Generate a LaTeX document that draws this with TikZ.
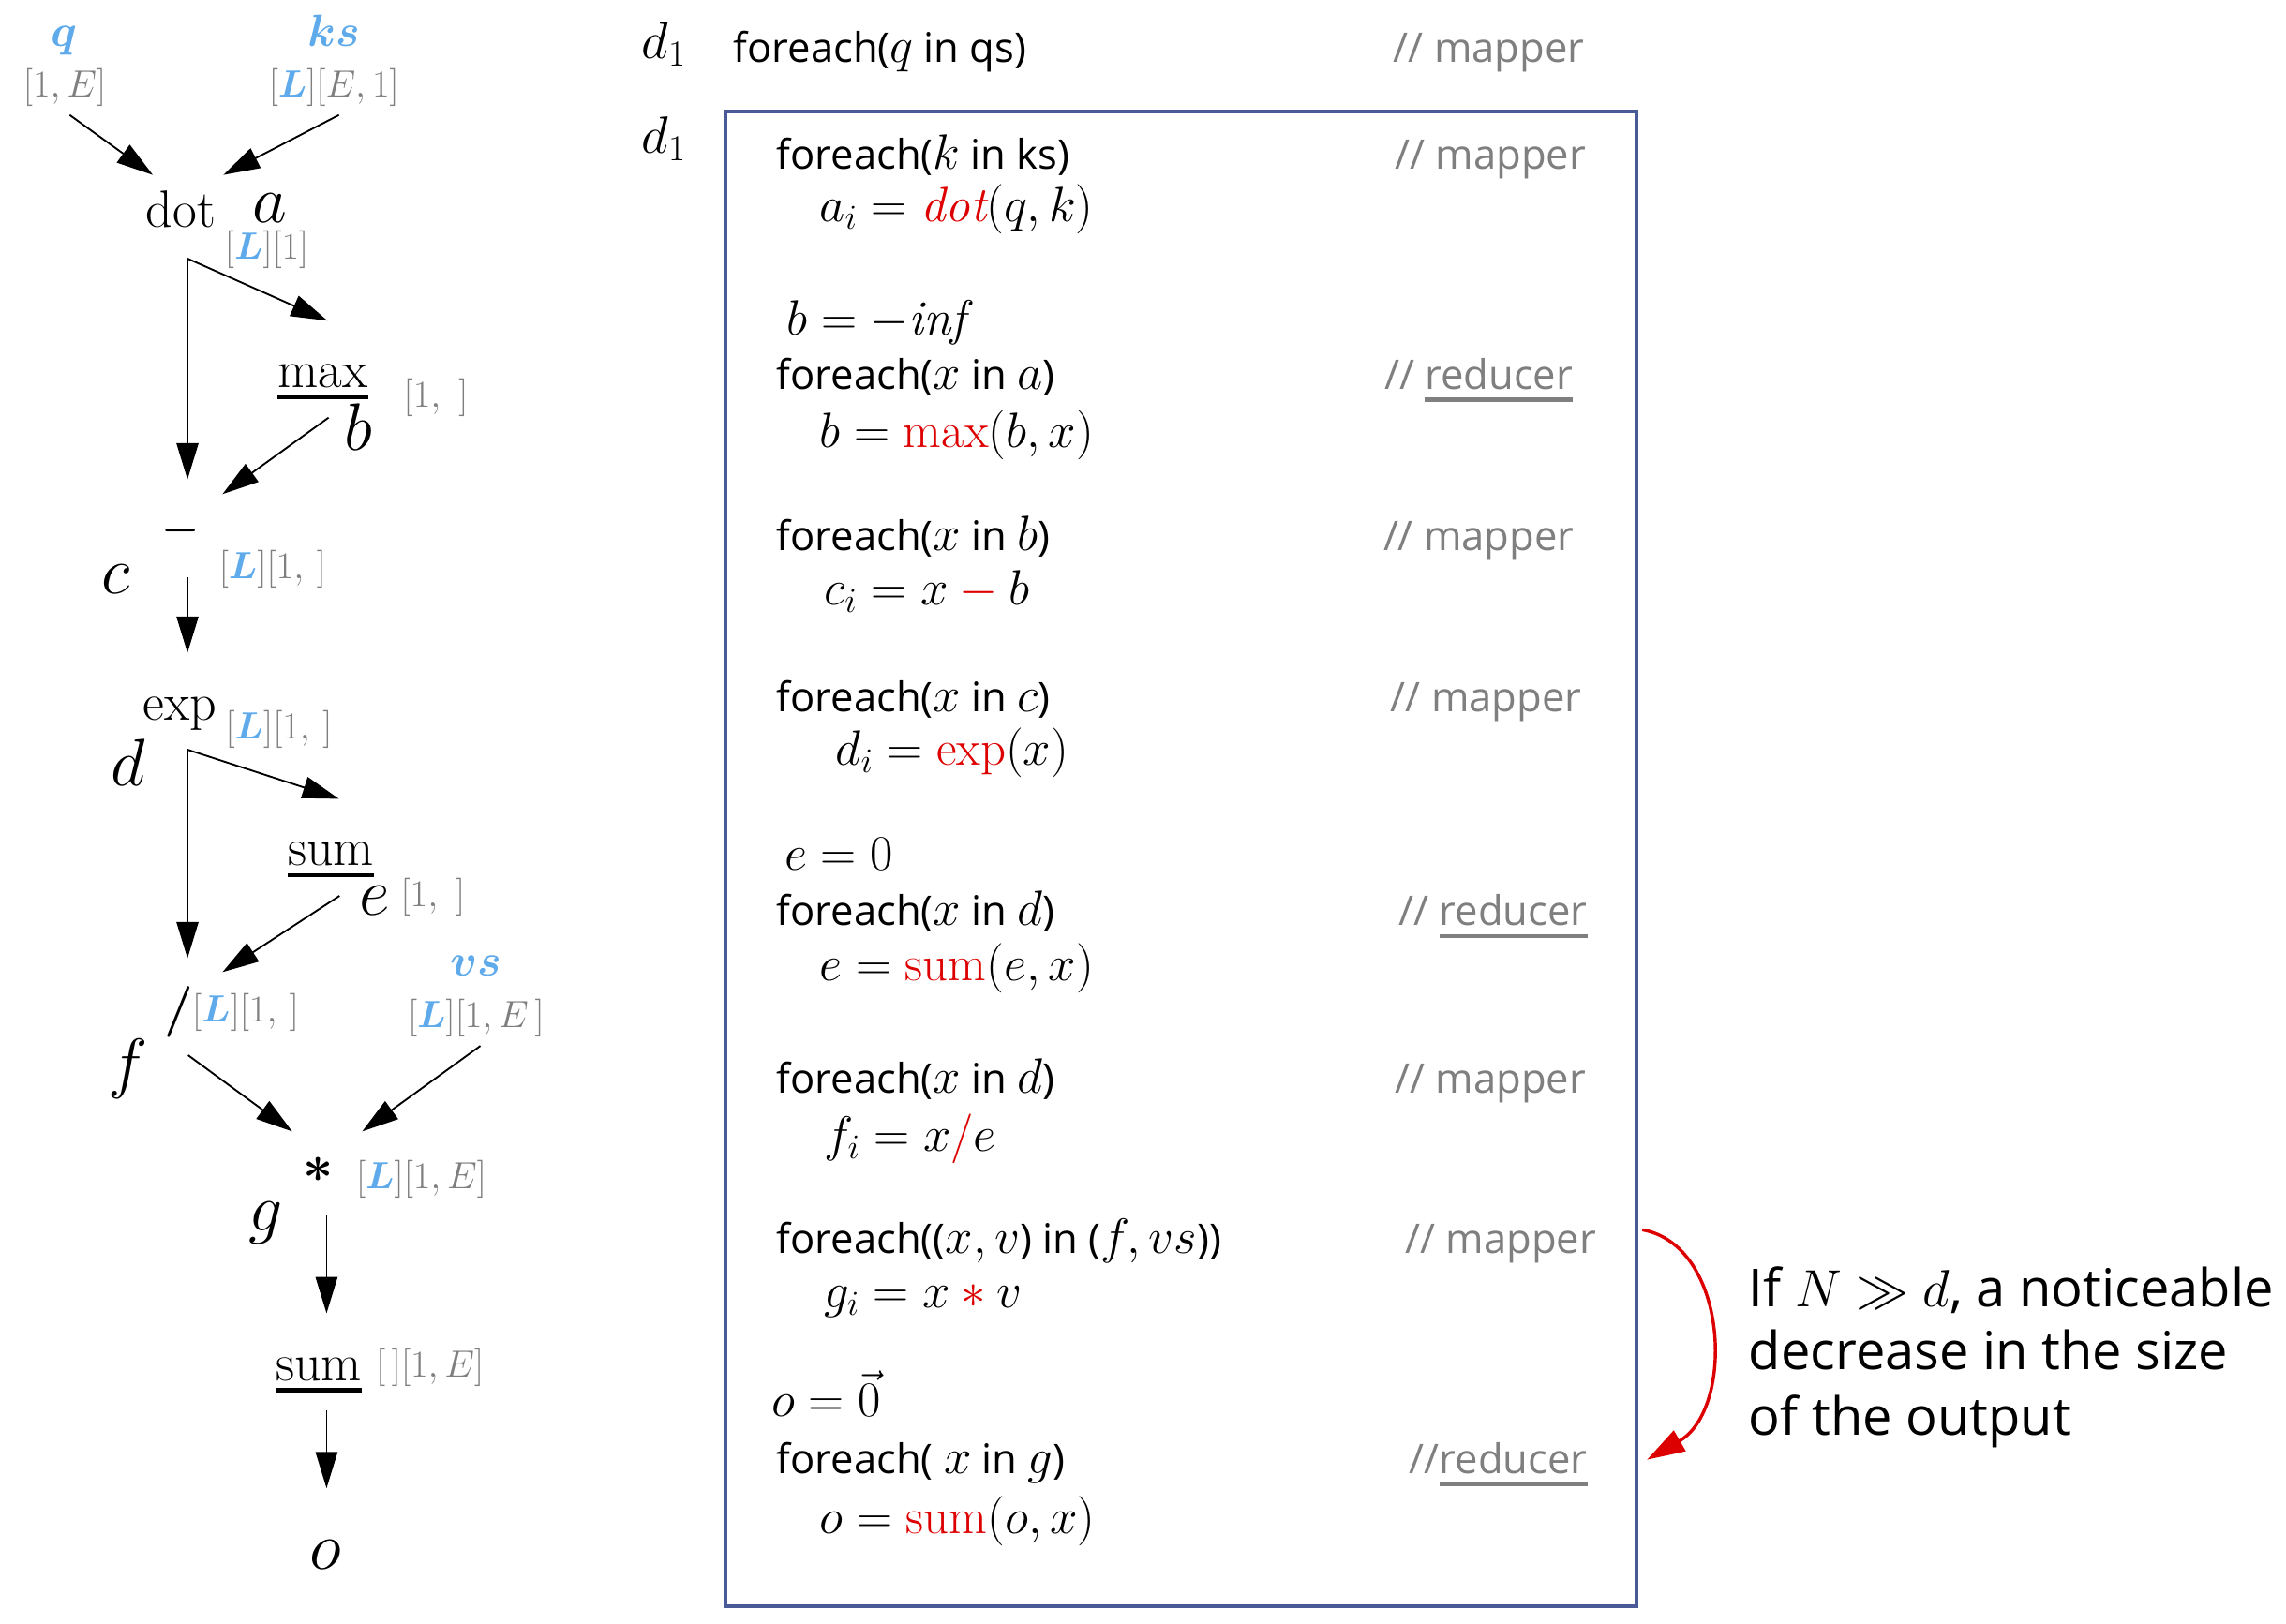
\RequirePackage{fix-cm}
\documentclass[tikz,border=0pt]{standalone}
\usepackage{amsmath}
\usepackage{bm}
\usepackage{fontspec}
\usetikzlibrary{arrows.meta}
\newfontfamily\codesans{Open Sans}
\definecolor{cblue}{HTML}{5EAAEB}
\definecolor{cgray}{HTML}{7F7F7F}
\definecolor{cred}{HTML}{DD0000}
\definecolor{cbox}{HTML}{4A5A96}
\newcommand\codefont{\codesans\fontsize{28}{34}\selectfont}
\newcommand\notefont{\codesans\fontsize{36}{44}\selectfont}
\newcommand\opfont{\fontsize{36}{40}\selectfont}
\newcommand\varfont{\fontsize{46}{50}\selectfont}
\newcommand\dimfont{\fontsize{26}{30}\selectfont}
\newcommand\inpfont{\fontsize{31}{35}\selectfont}
\newcommand\M[1]{{\fontsize{34}{34}\selectfont$#1$}}
\newsavebox\ulbox
\newcommand\myul[3]{\leavevmode\sbox\ulbox{#1}\rlap{\rule[-#3]{\wd\ulbox}{#2}}\usebox\ulbox}
\newcommand\BL{{\color{cblue}\bm{L}}}
\begin{document}
\begin{tikzpicture}[x=1pt,y=-1pt,
  op/.style={inner sep=0,anchor=base,font=\opfont},
  var/.style={inner sep=0,anchor=base,font=\varfont},
  dimlab/.style={inner sep=0,anchor=base,font=\dimfont,text=cgray},
  inp/.style={inner sep=0,anchor=base,font=\inpfont,text=cblue},
  flow/.style={-{Triangle[length=25pt,width=15pt]},line width=1.2pt},
  codeline/.style={inner sep=0,anchor=base west,font=\codefont},
  cmt/.style={inner sep=0,anchor=base east,font=\codefont,text=cgray},
  note/.style={inner sep=0,anchor=base west,font=\notefont},
  redarrow/.style={-{Triangle[length=26pt,width=16pt]},line width=2.2pt,draw=cred}]
\useasboundingbox (0,0) rectangle (1568,1114);

% ---------------- left graph ----------------
\node[inp] (q) at (44,32) {$\bm{q}$};
\node[dimlab] (qdim) at (44.4,66.7) {$[1,E]$};
\node[inp] (ks) at (229,32) {$\bm{ks}$};
\node[dimlab] (ksdim) at (229,66.7) {$[\BL][E,1]$};

\node[op] (dot) at (124,156) {dot};
\node[var] (a) at (185,152.6) {$a$};
\node[dimlab] (adim) at (183,178) {$[\BL][1]$};

\node[op] (max) at (221.5,265.6) {\myul{max}{2.8pt}{8.3pt}};
\node[var] (b) at (246,308.6) {$b$};
\node[dimlab] (bdim) at (299,279.5) {$[1,\ ]$};

\node[inner sep=0,font=\fontsize{29}{32}\selectfont] (minus) at (124,364.3) {$\bm{-}$};
\node[var] (c) at (79.6,407) {$c$};
\node[dimlab] (cdim) at (187,397) {$[\BL][1,\,]$};

\node[op] (exp) at (123.2,494) {exp};
\node[dimlab] (ddim) at (191.3,507) {$[\BL][1,\,]$};
\node[var] (d) at (87.9,539) {$d$};

\node[op] (sum) at (227.1,594) {\myul{sum}{2.8pt}{8pt}};
\node[var] (e) at (257.2,627.5) {$e$};
\node[dimlab] (edim) at (297,622) {$[1,\ ]$};

\node[inp] (vs) at (326.5,669.7) {$\bm{vs}$};
\node[dimlab] (vsdim) at (326.5,704.6) {$[\BL][1,E\,]$};

\node[inner sep=0,anchor=base,font=\fontsize{35}{38}\selectfont] (div) at (122.9,703) {$\bm{/}$};
\node[dimlab] (fdim) at (168.5,701) {$[\BL][1,\,]$};
\node[var] (f) at (87.8,745) {$f$};

\node[inner sep=0,font=\fontsize{36}{38}\selectfont] (mul) at (218.6,802.5) {$\bm{\ast}$};
\node[dimlab] (gdim) at (289,815.3) {$[\BL][1,E]$};
\node[var] (g) at (182.6,844.5) {$g$};

\node[op] (sumo) at (218.6,947.2) {\myul{sum}{2.8pt}{8pt}};
\node[dimlab] (sumodim) at (294.9,944.5) {$[\,][1,E]$};

\node[var] (o) at (223.3,1076.8) {$o$};

% ports
\coordinate (q-out) at (47.8,78.9);
\coordinate (ks-out) at (232.5,78.9);
\coordinate (dot-inl) at (104.8,120);
\coordinate (dot-inr) at (153.2,120);
\coordinate (dot-out) at (128.6,177.4);
\coordinate (max-in) at (224.6,220);
\coordinate (max-out) at (225.4,286.5);
\coordinate (minus-in) at (128.6,329);
\coordinate (minus-inr) at (152.6,339);
\coordinate (minus-out) at (128.6,396);
\coordinate (exp-in) at (128.6,447.9);
\coordinate (exp-out) at (128.6,514.3);
\coordinate (sum-in) at (232.5,548);
\coordinate (sum-out) at (232.9,614.6);
\coordinate (div-in) at (128.6,657.5);
\coordinate (div-inr) at (152.6,666.9);
\coordinate (div-out) at (129,723.9);
\coordinate (vs-out) at (329.5,717.5);
\coordinate (mul-inl) at (200.4,776.2);
\coordinate (mul-inr) at (248.4,776.2);
\coordinate (mul-out) at (224,833.7);
\coordinate (sumo-in) at (224,901);
\coordinate (sumo-out) at (224,967.5);
\coordinate (o-in) at (224,1021);

\draw[flow] (q-out) -- (dot-inl);
\draw[flow] (ks-out) -- (dot-inr);
\draw[flow] (dot-out) -- (minus-in);
\draw[flow] (dot-out) -- (max-in);
\draw[flow] (max-out) -- (minus-inr);
\draw[flow] (minus-out) -- (exp-in);
\draw[flow] (exp-out) -- (div-in);
\draw[flow] (exp-out) -- (sum-in);
\draw[flow] (sum-out) -- (div-inr);
\draw[flow] (div-out) -- (mul-inl);
\draw[flow] (vs-out) -- (mul-inr);
\draw[flow] (mul-out) -- (sumo-in);
\draw[flow] (sumo-out) -- (o-in);

% ---------------- right code ----------------
\node[inner sep=0,anchor=base west,font=\fontsize{36}{38}\selectfont] (d1a) at (440,40) {$d_1$};
\node[codeline] (l0) at (503,43) {foreach(\M{q} in qs)};
\node[cmt] (c0) at (1087,43) {// mapper};

\node[draw=cbox,line width=2.6pt,inner sep=0,minimum width=625pt,minimum height=1025.6pt,anchor=north west] (box) at (496.4,75) {};

\node[inner sep=0,anchor=base west,font=\fontsize{36}{38}\selectfont] (d1b) at (440,105) {$d_1$};

\node[codeline] (l1) at (532.6,116) {foreach(\M{k} in ks)};
\node[cmt] (c1) at (1088,116) {// mapper};
\node[codeline] (l2) at (562,152) {\M{a_i = {\color{cred}\mathit{dot}}(q,k)}};

\node[codeline] (l3) at (539.4,230) {\M{b = -\mathit{inf}}};
\node[codeline] (l4) at (532.6,267) {foreach(\M{x} in \M{a})};
\node[cmt] (c4) at (1079,267) {// \myul{reducer}{2.8pt}{8.5pt}};
\node[codeline] (l5) at (562,307) {\M{b = {\color{cred}\mathrm{max}}(b,x)}};

\node[codeline] (l6) at (532.6,378) {foreach(\M{x} in \M{b})};
\node[cmt] (c6) at (1080,378) {// mapper};
\node[codeline] (l7) at (565,415) {\M{c_i = x \mathbin{\color{cred}-} b}};

\node[codeline] (l8) at (532.6,488) {foreach(\M{x} in \M{c})};
\node[cmt] (c8) at (1085,488) {// mapper};
\node[codeline] (l9) at (573,525) {\M{d_i = {\color{cred}\exp}(x)}};

\node[codeline] (l10) at (538,597) {\M{e = 0}};
\node[codeline] (l11) at (532.6,635) {foreach(\M{x} in \M{d})};
\node[cmt] (c11) at (1089,635) {// \myul{reducer}{2.8pt}{8.5pt}};
\node[codeline] (l12) at (562,673) {\M{e = {\color{cred}\mathrm{sum}}(e,x)}};

\node[codeline] (l13) at (532.6,750) {foreach(\M{x} in \M{d})};
\node[cmt] (c13) at (1088,750) {// mapper};
\node[codeline] (l14) at (565,790) {\M{f_i = x{\color{cred}/}e}};

\node[codeline] (l15) at (532.6,860) {foreach((\M{x,v}) in (\M{f,vs}))};
\node[cmt] (c15) at (1095,860) {// mapper};
\node[codeline] (l16) at (565,897) {\M{g_i = x \mathbin{\color{cred}\ast} v}};

\node[codeline] (l17) at (529,972) {\M{o = \vec{0}}};
\node[codeline] (l18) at (532.6,1011) {foreach( \M{x} in \M{g})};
\node[cmt] (c18) at (1089,1011) {//\myul{reducer}{2.8pt}{8.5pt}};
\node[codeline] (l19) at (562,1052) {\M{o = {\color{cred}\mathrm{sum}}(o,x)}};

% ---------------- annotation ----------------
\coordinate (arc-s) at (1126.5,843.7);
\coordinate (arc-t) at (1129.7,1001.4);
\draw[redarrow] (arc-s) .. controls (1185.6,854.1) and (1190.3,966.4) .. (arc-t);

\node[note] (n1) at (1199.4,896.8) {If $N \gg d$, a noticeable};
\node[note] (n2) at (1199.4,939.7) {decrease in the size};
\node[note] (n3) at (1199.4,984.7) {of the output};
\end{tikzpicture}
\end{document}
